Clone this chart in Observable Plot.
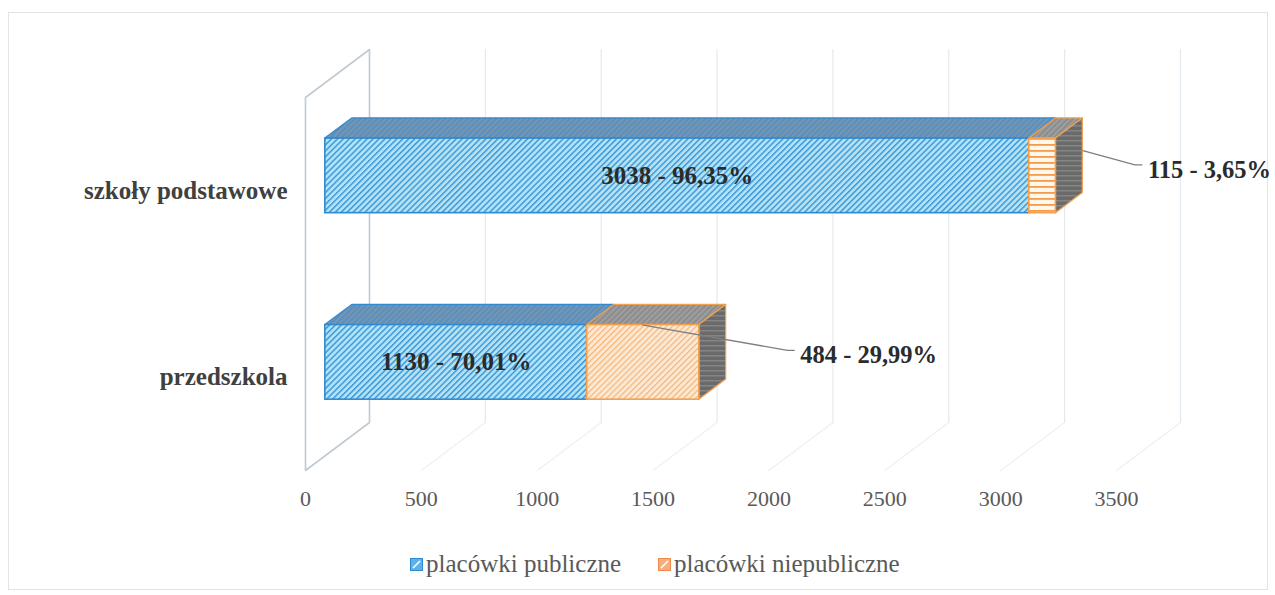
<!DOCTYPE html>
<html><head><meta charset="utf-8">
<script src="https://cdn.jsdelivr.net/npm/d3@7"></script>
<script src="https://cdn.jsdelivr.net/npm/@observablehq/plot@0.6"></script>
<style>
body{margin:0;background:#fff;}
#wrap{position:relative;width:1275px;height:595px;overflow:hidden;font-family:"Liberation Serif","Times New Roman",serif;background:#fff;}
#frame{position:absolute;left:8px;top:12px;width:1260px;height:578px;border:1px solid #e3e3e3;box-sizing:border-box;}
#chart{position:absolute;left:0;top:0;}
#legend{position:absolute;left:410px;top:550px;display:flex;align-items:center;gap:37px;font-size:25px;color:#595959;white-space:nowrap;}
#legend .item{display:flex;align-items:center;}
#legend svg{margin-right:3px;}
</style></head><body>
<div id="wrap"><div id="frame"></div><div id="chart"></div><div id="legend"></div></div>
<script>
// ---- data ----
const categories = ["przedszkola", "szkoły podstawowe"];
const series = ["placówki publiczne", "placówki niepubliczne"];
const publiczne = [1130, 3038];
const niepubliczne = [484, 115];
const xTicks = [0, 500, 1000, 1500, 2000, 2500, 3000, 3500];

// ---- geometry (layout constants) ----
const W = 1275, H = 545, mL = 305, mR = 159, mT = 97, mB = 75;
const xMax = 3500;
const kx = (W - mL - mR) / xMax;          // px per unit
const ky = (H - mT - mB) / categories.length; // px per category band
const DXu = 64 / kx, DYu = 48 / ky;        // full depth in data units
const zf = 0.31, zb = 0.73;                // bar front / back depth
const b0 = 0.3, b1 = 0.7;                  // bar extent within band
const ux = px => px / kx, uy = px => -px / ky;

const fmtPct = v => (v * 100).toFixed(2).replace(".", ",") + "%";

const rows = [];
categories.forEach((c, i) => {
  const vals = [publiczne[i], niepubliczne[i]];
  const total = vals[0] + vals[1];
  let x0 = 0;
  vals.forEach((v, s) => {
    rows.push({cat: c, i, s, x0, x1: x0 + v, v, total, id: i + "-" + s,
      label: v + " - " + fmtPct(v / total)});
    x0 += v;
  });
});

const topPts = rows.flatMap(r => [zf, zb].map(z => ({id: r.id, s: r.s,
  y: r.i + b1 + z * DYu, xa: r.x0 + z * DXu, xb: r.x1 + z * DXu})));
const sidePts = rows.filter(r => r.s === 1).flatMap(r => [zf, zb].map(z => ({id: r.id,
  x: r.x1 + z * DXu, ya: r.i + b0 + z * DYu, yb: r.i + b1 + z * DYu})));

const wall = [[0, 0], [0, 2], [DXu, 2 + DYu], [DXu, DYu], [0, 0]].map(([x, y]) => ({x, y}));
const backGrid = xTicks.slice(1).flatMap(t => [{t, x: t + DXu, y: DYu}, {t, x: t + DXu, y: 2 + DYu}]);
const floorGrid = xTicks.slice(1).flatMap(t => [{t, x: t + DXu, y: DYu}, {t, x: t, y: 0}]);

const inner = rows.filter(r => r.s === 0);
const outer = rows.filter(r => r.s === 1);
// label offsets (px) relative to bar end / front face centre
const extOff = [[101, -7], [92, -6]];
const extLabels = outer.map(r => {
  const [ox, oy] = extOff[r.i];
  return {...r, lx: r.x1 + zf * DXu + ux(ox), ly: r.i + 0.5 + zf * DYu + uy(oy)};
});
const leaders = extLabels.flatMap(r => {
  let start;
  if (r.i === 0) start = {x: (r.x0 + r.x1) / 2 + zf * DXu, y: r.i + b1 + zf * DYu};
  else start = {x: r.x1 + zb * DXu, y: r.i + 0.5 + zb * DYu + uy(-5)};
  return [
    {id: r.id, ...start},
    {id: r.id, x: r.lx + ux(-13), y: r.ly + uy(-5)},
    {id: r.id, x: r.lx + ux(-6), y: r.ly + uy(-5)}
  ];
});

const blueStroke = "#2f8ad0", orangeStroke = "#f2a04e";
const serif = "'Liberation Serif','Times New Roman',serif";

const chart = Plot.plot({
  width: W, height: H,
  marginLeft: mL, marginRight: mR, marginTop: mT, marginBottom: mB,
  style: {fontFamily: serif, fontSize: "22px", color: "#595959", background: "transparent"},
  x: {domain: [0, xMax], ticks: xTicks, tickSize: 0, tickPadding: 20, tickFormat: d => String(d), label: null},
  y: {domain: [0, categories.length], axis: null},
  marks: [
    Plot.line(floorGrid, {x: "x", y: "y", z: "t", stroke: "#edf1f4", strokeWidth: 1.2}),
    Plot.line(backGrid, {x: "x", y: "y", z: "t", stroke: "#e2eaef", strokeWidth: 1.2}),
    Plot.line(wall, {x: "x", y: "y", stroke: "#bfcad3", strokeWidth: 1.6}),
    // top faces
    Plot.areaX(topPts.filter(d => d.s === 0), {y: "y", x1: "xa", x2: "xb", z: "id", fill: "url(#pTopBlue)", stroke: blueStroke, strokeWidth: 1.2, curve: "linear"}),
    Plot.areaX(topPts.filter(d => d.s === 1), {y: "y", x1: "xa", x2: "xb", z: "id", fill: "url(#pTopGray)", stroke: orangeStroke, strokeWidth: 1.2, curve: "linear"}),
    // side faces
    Plot.areaY(sidePts, {x: "x", y1: "ya", y2: "yb", z: "id", fill: "url(#pSide)", stroke: orangeStroke, strokeWidth: 1.2, curve: "linear"}),
    // front faces
    Plot.rect(rows.filter(r => r.s === 0), {x1: r => r.x0 + zf * DXu, x2: r => r.x1 + zf * DXu, y1: r => r.i + b0 + zf * DYu, y2: r => r.i + b1 + zf * DYu, fill: "url(#pBlue)", stroke: blueStroke, strokeWidth: 1.6}),
    Plot.rect(rows.filter(r => r.s === 1 && r.i === 0), {x1: r => r.x0 + zf * DXu, x2: r => r.x1 + zf * DXu, y1: r => r.i + b0 + zf * DYu, y2: r => r.i + b1 + zf * DYu, fill: "url(#pOrange)", stroke: orangeStroke, strokeWidth: 1.6}),
    Plot.rect(rows.filter(r => r.s === 1 && r.i === 1), {x1: r => r.x0 + zf * DXu, x2: r => r.x1 + zf * DXu, y1: r => r.i + b0 + zf * DYu, y2: r => r.i + b1 + zf * DYu, fill: "url(#pOrangeH)", stroke: orangeStroke, strokeWidth: 1.6}),
    // leaders
    Plot.line(leaders, {x: "x", y: "y", z: "id", stroke: "#7f7f7f", strokeWidth: 1.3, curve: "linear"}),
    // labels
    Plot.text(inner, {x: r => (r.x0 + r.x1) / 2 + zf * DXu, y: r => r.i + 0.5 + zf * DYu, text: "label", fontSize: 25, fontWeight: "bold", fill: "#2b2b2b"}),
    Plot.text(extLabels, {x: "lx", y: "ly", text: "label", textAnchor: "start", fontSize: 24.5, fontWeight: "bold", fill: "#2b2b2b"}),
    Plot.text(categories, {x: 0, y: (d, i) => i + 0.5, text: d => d, textAnchor: "end", dx: -18, fontSize: 25, fontWeight: "bold", fill: "#404040"})
  ]
});

const defs = `
<defs>
 <pattern id="pBlue" width="4.2" height="4.2" patternUnits="userSpaceOnUse" patternTransform="rotate(45)">
  <rect width="4.2" height="4.2" fill="#b3e2f7"/><rect width="1.5" height="4.2" fill="#3d9ad8"/>
 </pattern>
 <pattern id="pOrange" width="4.2" height="4.2" patternUnits="userSpaceOnUse" patternTransform="rotate(45)">
  <rect width="4.2" height="4.2" fill="#fde8d2"/><rect width="1.2" height="4.2" fill="#f4b57a"/>
 </pattern>
 <pattern id="pOrangeH" width="6" height="6" patternUnits="userSpaceOnUse">
  <rect width="6" height="6" fill="#fff6ec"/><rect width="6" height="1.8" fill="#f29d4c"/>
 </pattern>
 <pattern id="pTopBlue" width="4" height="4" patternUnits="userSpaceOnUse" patternTransform="rotate(45)">
  <rect width="4" height="4" fill="#5b8fbd"/><rect width="1.5" height="4" fill="#7c98ae"/>
 </pattern>
 <pattern id="pTopGray" width="4" height="4" patternUnits="userSpaceOnUse" patternTransform="rotate(45)">
  <rect width="4" height="4" fill="#8d8d8d"/><rect width="1.5" height="4" fill="#a3a3a3"/>
 </pattern>
 <pattern id="pSide" width="5" height="5" patternUnits="userSpaceOnUse">
  <rect width="5" height="5" fill="#6a6a6a"/><rect width="5" height="1.5" fill="#858585"/>
 </pattern>
</defs>`;
const svgEl = chart.tagName.toLowerCase() === "svg" ? chart : chart.querySelector("svg");
svgEl.insertAdjacentHTML("afterbegin", defs);
document.getElementById("chart").appendChild(chart);

// legend
const legendColors = [["#2e8ad0", "#5fb2e8"], ["#ee8a4c", "#f6ad7d"]];
const legend = document.getElementById("legend");
series.forEach((s, k) => {
  const it = document.createElement("div");
  it.className = "item";
  it.innerHTML = `<svg width="13" height="13"><rect x="0.5" y="0.5" width="12" height="12" fill="${legendColors[k][1]}" stroke="${legendColors[k][0]}"/><line x1="3" y1="10" x2="10" y2="3" stroke="#fff" stroke-width="1.6"/></svg><span>${s}</span>`;
  legend.appendChild(it);
});
</script>
</body></html>
